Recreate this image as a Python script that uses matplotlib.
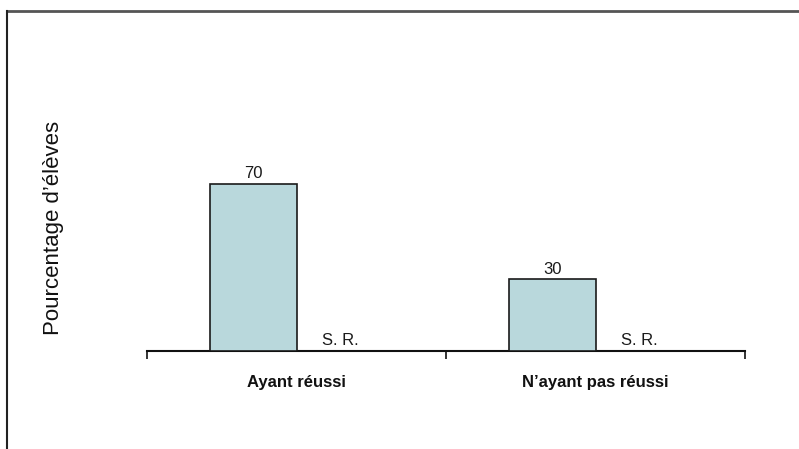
import matplotlib
matplotlib.use("Agg")
import matplotlib.pyplot as plt
from matplotlib.lines import Line2D

plt.rcParams['font.family'] = ['Liberation Sans', 'DejaVu Sans']

categories = ["Ayant réussi", "N’ayant pas réussi"]
values = [70, 30]
sr_labels = ["S. R.", "S. R."]
ylabel = "Pourcentage d’élèves"

fig = plt.figure(figsize=(7.99, 4.49), dpi=100)
ax = fig.add_axes([147/799, (449-351)/449, 598/799, 191/449])

x = list(range(len(categories)))
w = 0.29
off = 0.145
bars = ax.bar([i - off for i in x], values, width=w, color="#b9d8dc",
              edgecolor="#1a1a1a", linewidth=1.2, zorder=3)
for b, v in zip(bars, values):
    ax.text(b.get_x() + b.get_width()/2, v + 1.2, str(v), ha="center", va="bottom",
            fontsize=12, color="#1a1a1a")
for i, s in zip(x, sr_labels):
    ax.text(i + off, 1.2, s, ha="center", va="bottom", fontsize=12, color="#1a1a1a")

ax.set_xlim(-0.5, 1.5)
ax.set_ylim(0, 80)
for sp in ["top", "right", "left"]:
    ax.spines[sp].set_visible(False)
ax.spines["bottom"].set_linewidth(1.5)
ax.spines["bottom"].set_color("#111111")
ax.set_yticks([])
ax.set_xticks([-0.5, 0.5, 1.5])
ax.set_xticklabels([])
ax.set_xticks(x, minor=True)
ax.set_xticklabels(categories, minor=True, fontsize=12, fontweight="bold", color="#111111")
ax.tick_params(axis="x", which="major", length=6, width=1.2, direction="out", color="#111111")
ax.tick_params(axis="x", which="minor", length=0, pad=17)

fig.text(54/799, (449-228)/449, ylabel, rotation=90, ha="center", va="center",
         fontsize=16, color="#111111")

# outer frame (top and left edges)
fig.add_artist(Line2D([7/799, 798/799], [1-11/449, 1-11/449], transform=fig.transFigure,
                      color="#555555", linewidth=2))
fig.add_artist(Line2D([7/799, 7/799], [1-11/449, 0], transform=fig.transFigure,
                      color="#222222", linewidth=1.5))

fig.savefig("out.png", dpi=100)
